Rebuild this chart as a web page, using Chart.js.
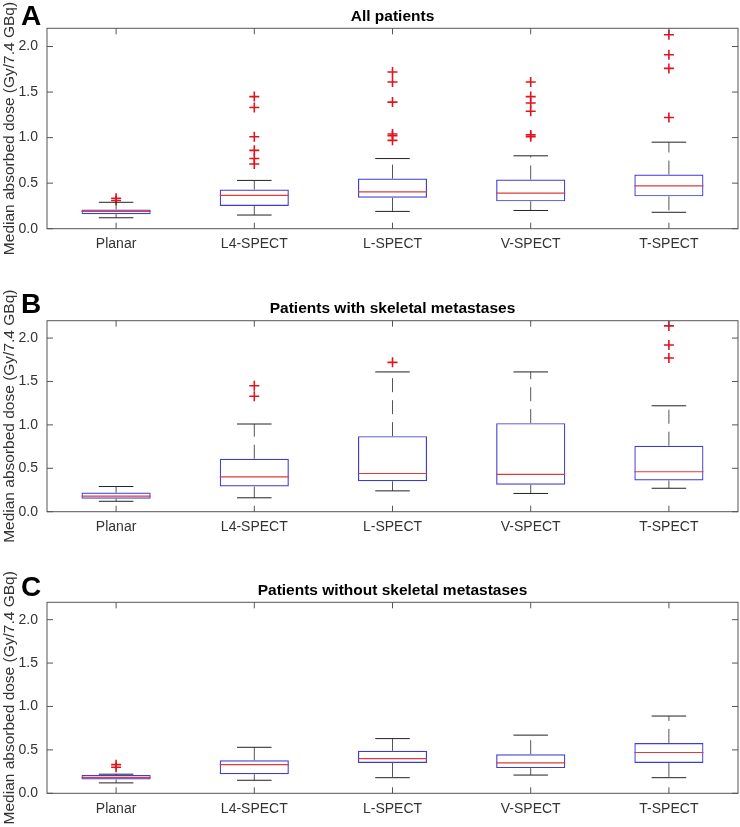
<!DOCTYPE html>
<html>
<head>
<meta charset="utf-8">
<script src="https://cdn.jsdelivr.net/npm/chart.js@4.4.1/dist/chart.umd.min.js"></script>
<style>
body { margin: 0; background: #fff; width: 740px; height: 827px; position: relative; overflow: hidden; font-family: "Liberation Sans", Arial, sans-serif; }
.panel { position: absolute; left: 0; width: 740px; }
.letter { position: absolute; left: 21px; font-weight: bold; font-size: 28px; line-height: 28px; color: #000; }
</style>
</head>
<body>
<div class="panel" style="top:0;height:265px"><canvas id="chartA" width="740" height="265"></canvas></div>
<div class="panel" style="top:265px;height:285px"><canvas id="chartB" width="740" height="285"></canvas></div>
<div class="panel" style="top:550px;height:277px"><canvas id="chartC" width="740" height="277"></canvas></div>
<div class="letter" style="top:2px">A</div>
<div class="letter" style="top:290px">B</div>
<div class="letter" style="top:573px">C</div>
<script>
var categories = ["Planar", "L4-SPECT", "L-SPECT", "V-SPECT", "T-SPECT"];
var yTicks = [0, 0.5, 1.0, 1.5, 2.0];
var yTitle = "Median absorbed dose (Gy/7.4 GBq)";

// A: all patients
var allMin = [0.12, 0.15, 0.19, 0.20, 0.18];
var allQ1 = [0.16, 0.25, 0.34, 0.30, 0.355];
var allMedian = [0.19, 0.365, 0.405, 0.39, 0.47];
var allQ3 = [0.21, 0.43, 0.55, 0.54, 0.595];
var allMax = [0.29, 0.53, 0.77, 0.80, 0.95];
var allOutliers = [[0.335, 0.31], [1.45, 1.33, 1.01, 0.86, 0.77, 0.71], [1.72, 1.61, 1.39, 1.04, 1.02, 0.97], [1.61, 1.45, 1.38, 1.29, 1.03, 1.01], [2.13, 1.91, 1.76, 1.22]];

// B: with skeletal metastases
var withMin = [0.12, 0.16, 0.24, 0.21, 0.27];
var withQ1 = [0.15, 0.29, 0.35, 0.31, 0.36];
var withMedian = [0.18, 0.40, 0.44, 0.43, 0.46];
var withQ3 = [0.22, 0.61, 0.87, 1.02, 0.76];
var withMax = [0.29, 1.01, 1.61, 1.61, 1.22];
var withOutliers = [[], [1.45, 1.33], [1.72], [], [2.14, 1.92, 1.77]];

// C: without skeletal metastases
var withoutMin = [0.12, 0.15, 0.18, 0.21, 0.18];
var withoutQ1 = [0.16, 0.22, 0.35, 0.29, 0.35];
var withoutMedian = [0.18, 0.33, 0.40, 0.35, 0.47];
var withoutQ3 = [0.21, 0.38, 0.49, 0.45, 0.58];
var withoutMax = [0.22, 0.53, 0.63, 0.67, 0.89];
var withoutOutliers = [[0.33, 0.30], [], [], [], []];

var FONT = "'Liberation Sans', Arial, sans-serif";

// whiskers, medians, frame and inward ticks, all placed through the chart scales
function boxPlugin(lo, med, hi) {
    return {
        id: "boxExtras",
        afterDatasetsDraw: function(chart) {
            var ctx = chart.ctx;
            var xs = chart.scales.x, ys = chart.scales.y;
            var area = chart.chartArea;
            var bars = chart.getDatasetMeta(0).data;
            ctx.save();
            for (var i = 0; i < categories.length; i++) {
                var cx = xs.getPixelForValue(i);
                var half = bars[i].width / 2;
                var top = bars[i].y, bottom = bars[i].base;
                var yHi = ys.getPixelForValue(hi[i]);
                var yLo = ys.getPixelForValue(lo[i]);
                // dashed stems
                ctx.strokeStyle = "#555";
                ctx.lineWidth = 1;
                ctx.setLineDash([14, 8]);
                ctx.beginPath();
                ctx.moveTo(cx, Math.min(top, bottom));
                ctx.lineTo(cx, yHi);
                ctx.moveTo(cx, Math.max(top, bottom));
                ctx.lineTo(cx, yLo);
                ctx.stroke();
                ctx.setLineDash([]);
                // caps
                ctx.strokeStyle = "#222";
                ctx.beginPath();
                ctx.moveTo(cx - half / 2, yHi);
                ctx.lineTo(cx + half / 2, yHi);
                ctx.moveTo(cx - half / 2, yLo);
                ctx.lineTo(cx + half / 2, yLo);
                ctx.stroke();
                // median
                var ym = ys.getPixelForValue(med[i]);
                ctx.strokeStyle = "#e03a3a";
                ctx.lineWidth = 1.2;
                ctx.beginPath();
                ctx.moveTo(cx - half, ym);
                ctx.lineTo(cx + half, ym);
                ctx.stroke();
            }
            // frame
            ctx.strokeStyle = "#555";
            ctx.lineWidth = 1;
            ctx.strokeRect(area.left, area.top, area.right - area.left, area.bottom - area.top);
            // inward ticks
            ctx.beginPath();
            for (var j = 0; j < categories.length; j++) {
                var tx = xs.getPixelForTick(j);
                ctx.moveTo(tx, area.bottom);
                ctx.lineTo(tx, area.bottom - 6);
                ctx.moveTo(tx, area.top);
                ctx.lineTo(tx, area.top + 6);
            }
            yTicks.forEach(function(v) {
                var ty = ys.getPixelForValue(v);
                ctx.moveTo(area.left, ty);
                ctx.lineTo(area.left + 6, ty);
                ctx.moveTo(area.right, ty);
                ctx.lineTo(area.right - 6, ty);
            });
            ctx.stroke();
            ctx.restore();
        }
    };
}

function makePanel(id, title, titlePad, xHeight, lo, q1, med, q3, hi, outliers) {
    var outlierPoints = [];
    outliers.forEach(function(list, i) {
        list.forEach(function(v) {
            outlierPoints.push({x: categories[i], y: v});
        });
    });
    var ctx = document.getElementById(id).getContext("2d");
    return new Chart(ctx, {
        type: "bar",
        data: {
            labels: categories,
            datasets: [
                {
                    data: q1.map(function(v, i) { return [v, q3[i]]; }),
                    backgroundColor: "rgba(0,0,0,0)",
                    borderColor: "#3c3cd6",
                    borderWidth: 1.2,
                    borderSkipped: false,
                    barPercentage: 0.5,
                    categoryPercentage: 1.0,
                },
                {
                    type: "line",
                    data: outlierPoints,
                    showLine: false,
                    pointStyle: "cross",
                    pointRadius: 5,
                    pointBorderWidth: 1.6,
                    pointBorderColor: "#e0141e",
                    borderColor: "#e0141e",
                },
            ]
        },
        options: {
            responsive: false,
            animation: false,
            layout: {autoPadding: false, padding: {left: 0, right: 2, top: 0, bottom: 0}},
            plugins: {
                legend: {display: false},
                tooltip: {enabled: false},
                title: {
                    display: true,
                    fullSize: false,
                    text: title,
                    color: "#000",
                    font: {family: FONT, size: 15.5, weight: "bold"},
                    padding: titlePad,
                },
            },
            scales: {
                x: {
                    type: "category",
                    offset: true,
                    grid: {display: false, drawTicks: false},
                    border: {display: false},
                    ticks: {padding: 7, color: "#333", font: {family: FONT, size: 14}, maxRotation: 0, autoSkip: false},
                    afterFit: function(s) {
                        s.height = xHeight;
                        s.paddingLeft = 0;
                        s.paddingRight = 0;
                    },
                },
                y: {
                    min: 0,
                    max: 2.2,
                    grid: {display: false, drawTicks: false},
                    border: {display: false},
                    ticks: {
                        stepSize: 0.5,
                        includeBounds: false,
                        padding: 9,
                        color: "#333",
                        font: {family: FONT, size: 14},
                        callback: function(v) { return v.toFixed(1); },
                    },
                    title: {display: true, text: yTitle, color: "#333", font: {family: FONT, size: 15.5}, padding: 0},
                    afterFit: function(s) {
                        s.width = 47;
                        s.paddingTop = 0;
                        s.paddingBottom = 0;
                    },
                },
            },
        },
        plugins: [boxPlugin(lo, med, hi)],
    });
}

makePanel("chartA", "All patients", {top: 7.7, bottom: 2}, 36.3,
    allMin, allQ1, allMedian, allQ3, allMax, allOutliers);
makePanel("chartB", "Patients with skeletal metastases", {top: 34.7, bottom: 2.4}, 38.3,
    withMin, withQ1, withMedian, withQ3, withMax, withOutliers);
makePanel("chartC", "Patients without skeletal metastases", {top: 31.7, bottom: 2}, 33.7,
    withoutMin, withoutQ1, withoutMedian, withoutQ3, withoutMax, withoutOutliers);
</script>
</body>
</html>
